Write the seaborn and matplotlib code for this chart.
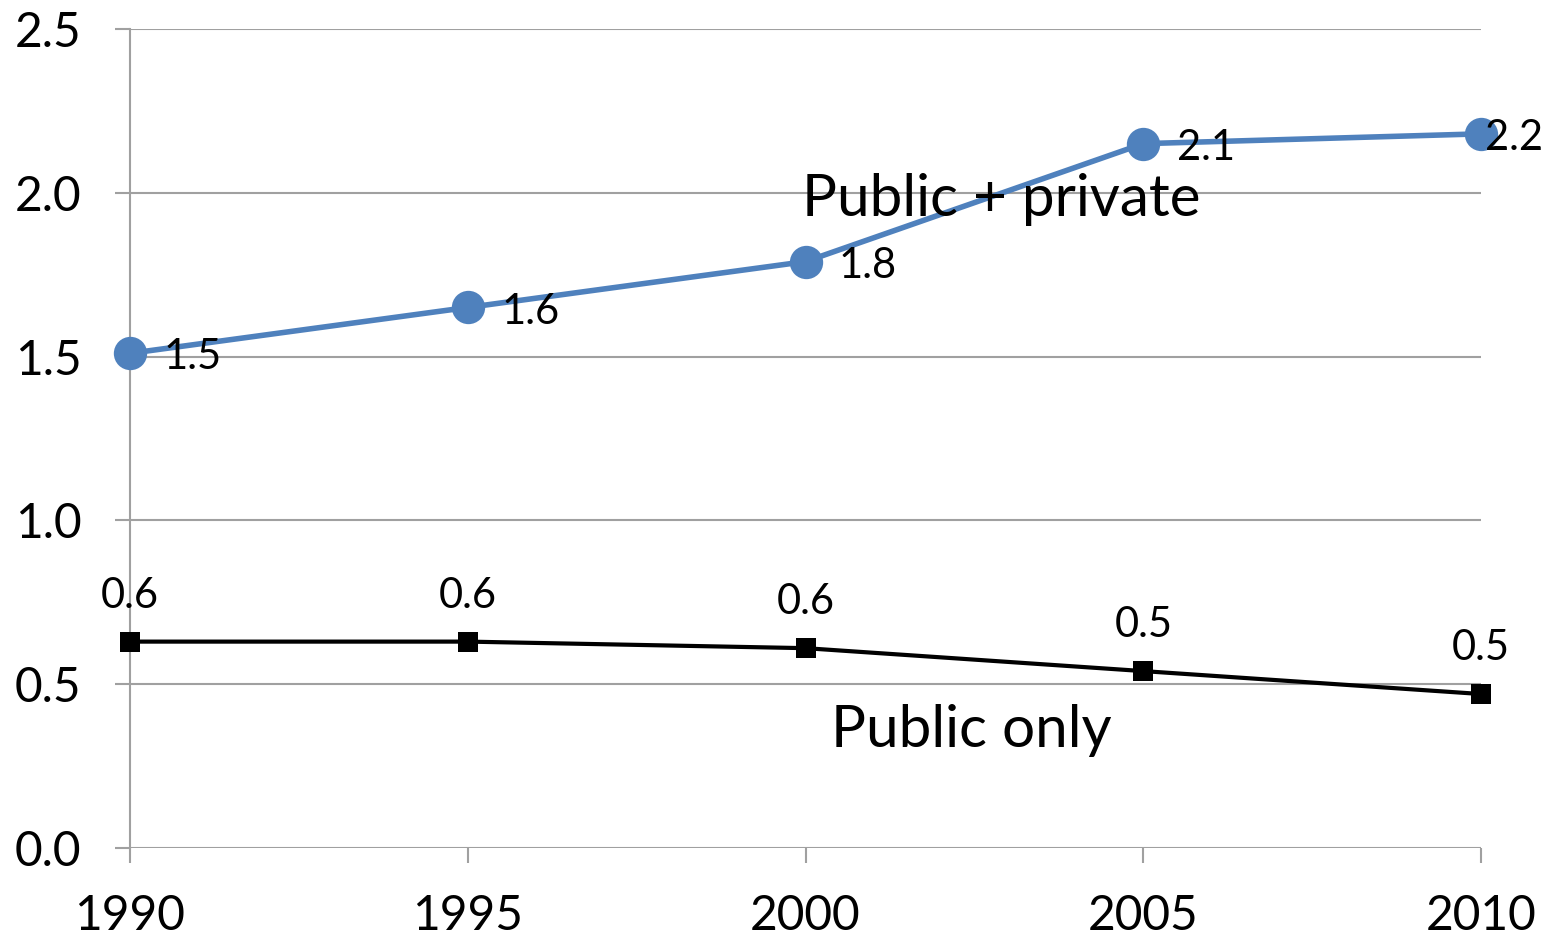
import matplotlib
matplotlib.use("Agg")
import matplotlib.pyplot as plt
import seaborn as sns
import pandas as pd

years = [1990, 1995, 2000, 2005, 2010]
public_private = [1.51, 1.65, 1.79, 2.15, 2.18]
public_only = [0.63, 0.63, 0.61, 0.54, 0.47]
pp_labels = ["1.5", "1.6", "1.8", "2.1", "2.2"]
po_labels = ["0.6", "0.6", "0.6", "0.5", "0.5"]
y_ticks = [0.0, 0.5, 1.0, 1.5, 2.0, 2.5]
y_tick_labels = ["0.0", "0.5", "1.0", "1.5", "2.0", "2.5"]

sns.set_theme(style="white")
plt.rcParams['font.family'] = ['Lato', 'DejaVu Sans']

fig = plt.figure(figsize=(15.55, 9.38), dpi=100)
ax = fig.add_axes([130/1555, 1-848/938, (1481-130)/1555, (848-29)/938])

blue = "#4F81BD"
df_pp = pd.DataFrame({"year": years, "value": public_private})
df_po = pd.DataFrame({"year": years, "value": public_only})

sns.lineplot(data=df_pp, x="year", y="value", ax=ax, color=blue, lw=4.0,
             marker="o", markersize=24, markeredgewidth=0, clip_on=False, zorder=5)
sns.lineplot(data=df_po, x="year", y="value", ax=ax, color="black", lw=3.0,
             marker="s", markersize=14, markeredgewidth=0, clip_on=False, zorder=5)

for i, (x, y, t) in enumerate(zip(years, public_private, pp_labels)):
    dx = 3 if i == len(years) - 1 else 24
    ax.annotate(t, (x, y), xytext=(dx, -3), textcoords="offset points",
                ha="left", va="center", fontsize=30, color="black", zorder=6)
for x, y, t in zip(years, public_only, po_labels):
    ax.annotate(t, (x, y), xytext=(0, 33), textcoords="offset points",
                ha="center", va="center", fontsize=30, color="black", zorder=6)

ax.text(2002.9, 1.98, "Public + private", ha="center", va="center", fontsize=42, color="black", zorder=7)
ax.text(2002.45, 0.36, "Public only", ha="center", va="center", fontsize=42, color="black", zorder=7)

ax.set_xlim(1990, 2010)
ax.set_ylim(0, 2.5)
ax.set_xticks(years)
ax.set_xticklabels([str(y) for y in years])
ax.set_yticks(y_ticks)
ax.set_yticklabels(y_tick_labels)
ax.set_xlabel("")
ax.set_ylabel("")

grid_c = "#A0A0A0"
ax.yaxis.grid(True, color=grid_c, lw=1.5)
ax.xaxis.grid(False)
for s in ["top", "right", "bottom"]:
    ax.spines[s].set_visible(False)
ax.spines["left"].set_color(grid_c)
ax.spines["left"].set_linewidth(1.5)
ax.tick_params(axis="both", which="major", length=11, width=1.5, color=grid_c,
               labelsize=34.5, labelcolor="black")
ax.tick_params(axis="y", pad=24, left=True)
ax.tick_params(axis="x", pad=22, bottom=True)

fig.savefig("out.png", dpi=100)
